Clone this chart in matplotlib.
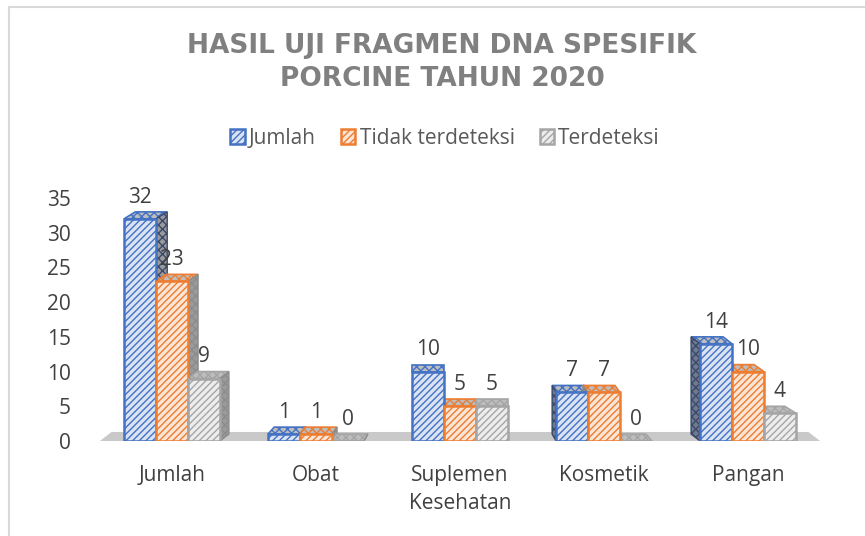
import matplotlib.pyplot as plt
import numpy as np
from matplotlib.patches import Polygon
from matplotlib.lines import Line2D

# data
categories = ["Jumlah", "Obat", "Suplemen\nKesehatan", "Kosmetik", "Pangan"]
series_names = ["Jumlah", "Tidak terdeteksi", "Terdeteksi"]
jumlah = [32, 1, 10, 7, 14]
tidak_terdeteksi = [23, 1, 5, 7, 10]
terdeteksi = [9, 0, 5, 0, 4]
y_ticks = [0, 5, 10, 15, 20, 25, 30, 35]

edge_colors = ["#4472C4", "#ED7D31", "#A5A5A5"]
face_colors = ["#DAE3F3", "#FBE5D6", "#EDEDED"]
side_colors = ["#3A4A6B", "#8C8C8C", "#8C8C8C"]
text_col = "#404040"

plt.rcParams["font.family"] = ["Open Sans", "DejaVu Sans"]
plt.rcParams["hatch.linewidth"] = 1.0

W, H = 865, 536
fig = plt.figure(figsize=(W / 100, H / 100), dpi=100)
ax = fig.add_axes([100 / W, 95 / H, 720 / W, 243 / H])

x = np.arange(len(categories))
width = 0.222
all_series = [jumlah, tidak_terdeteksi, terdeteksi]

# floor of the 3d chart
floor = Polygon([(-0.5, 0), (4.5, 0), (4.42, 1.3), (-0.42, 1.3)],
                closed=True, facecolor="#C9C9C9", edgecolor="none", zorder=1)
ax.add_patch(floor)

handles = []
for i, vals in enumerate(all_series):
    offs = x + (i - 1) * width
    # depth faces, side direction depends on position (fake perspective)
    for xc, v in zip(offs, vals):
        dx = 0.035 * (2 - xc) if abs(2 - xc) > 0.6 else 0.0
        dy = 1.0
        left = xc - width / 2
        right = xc + width / 2
        top = Polygon([(left, v), (right, v), (right + dx, v + dy), (left + dx, v + dy)],
                      closed=True, facecolor="#BDBDBD", edgecolor=edge_colors[i],
                      hatch="xxxx", lw=1.2, zorder=2)
        ax.add_patch(top)
        if dx > 0:
            side = Polygon([(right, 0), (right + dx, dy), (right + dx, v + dy), (right, v)],
                           closed=True, facecolor="#9A9A9A", edgecolor=side_colors[i],
                           hatch="xxxx", lw=1.0, zorder=2)
            ax.add_patch(side)
        elif dx < 0:
            side = Polygon([(left, 0), (left + dx, dy), (left + dx, v + dy), (left, v)],
                           closed=True, facecolor="#6F7A90", edgecolor=side_colors[i],
                           hatch="xxxx", lw=1.0, zorder=2)
            ax.add_patch(side)
    bars = ax.bar(offs, vals, width, facecolor=face_colors[i],
                  edgecolor=edge_colors[i], hatch="/////", lw=1.8,
                  label=series_names[i], zorder=3)
    handles.append(bars)
    for xc, v in zip(offs, vals):
        ax.text(xc, v + 1.6, str(v), ha="center", va="bottom",
                fontsize=15, color=text_col, zorder=5)

ax.set_xlim(-0.5, 4.5)
ax.set_ylim(0, 35)
ax.set_yticks(y_ticks)
ax.set_xticks(x)
ax.set_xticklabels(categories, linespacing=1.45)
ax.tick_params(axis="y", length=0, pad=21, labelsize=15, labelcolor=text_col)
ax.tick_params(axis="x", length=0, pad=17, labelsize=15, labelcolor=text_col)
for s in ax.spines.values():
    s.set_visible(False)
ax.patch.set_alpha(0)

fig.legend(handles=handles, labels=series_names, loc="center",
           bbox_to_anchor=(445 / W, 1 - 138 / H), ncol=3, frameon=False,
           fontsize=15, handlelength=0.7, handleheight=0.7, handletextpad=0.2,
           columnspacing=1.2, labelcolor="#595959")

fig.text(442 / W, 1 - 62 / H, "HASIL UJI FRAGMEN DNA SPESIFIK\nPORCINE TAHUN 2020",
         ha="center", va="center", fontsize=19, fontweight="bold",
         color="#808080", linespacing=1.35, family="DejaVu Sans")

# chart border (only left and top edges visible in the reference)
fig.add_artist(Line2D([9 / W, 9 / W], [0, 1 - 7 / H], color="#D9D9D9", lw=1.5))
fig.add_artist(Line2D([9 / W, 1], [1 - 7 / H, 1 - 7 / H], color="#D9D9D9", lw=1.5))

fig.savefig("out.png", dpi=100)
